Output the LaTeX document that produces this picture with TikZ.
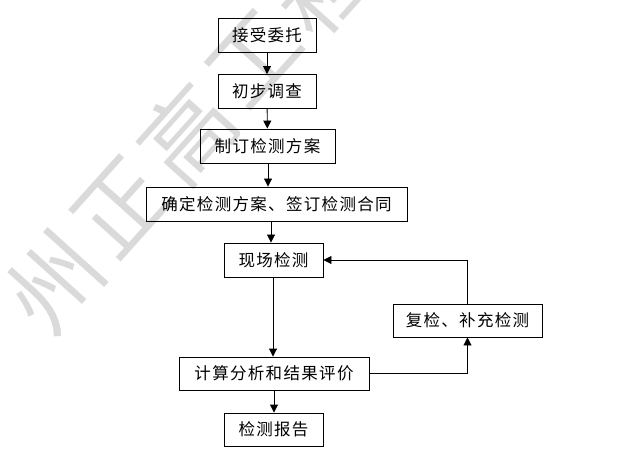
\documentclass[tikz,border=0pt]{standalone}
\usepackage{fontspec}
\setmainfont{Noto Sans CJK SC}
\newfontfamily\boxfont[LetterSpace=8]{Noto Sans CJK SC}
\usetikzlibrary{arrows.meta}
\definecolor{wm}{RGB}{218,218,218}
\begin{document}
\begin{tikzpicture}[x=1pt,y=-1pt,
  box/.style={draw,line width=0.9pt,minimum height=34pt,inner sep=0pt,font=\boxfont\fontsize{16.5}{20}\selectfont},
  arr/.style={line width=0.9pt,-{Triangle[length=8pt,width=8pt]}},
  wmark/.style={text=wm,font=\fontsize{92}{92}\selectfont,rotate=48,inner sep=0pt}]
\useasboundingbox (0,0) rectangle (632,465);
\begin{scope}
\clip (0,0) rectangle (632,465);
\node[wmark] (w1) at (55,282) {州};
\node[wmark] (w2) at (121,207) {正};
\node[wmark] (w3) at (187,134) {高};
\node[wmark] (w4) at (254,58) {工};
\node[wmark] (w5) at (322,-14) {程};
\end{scope}
\node[box,minimum width=98pt] (n1) at (267,35) {接受委托};
\node[box,minimum width=98pt] (n2) at (267,91.5) {初步调查};
\node[box,minimum width=135pt] (n3) at (267.5,146) {制订检测方案};
\node[box,minimum width=261pt] (n4) at (276.5,204) {确定检测方案、签订检测合同};
\node[box,minimum width=99pt] (n5) at (273.5,260) {现场检测};
\node[box,minimum width=190pt,minimum height=33pt] (n6) at (274,373.5) {计算分析和结果评价};
\node[box,minimum width=99pt,minimum height=33pt] (n7) at (273.5,429.5) {检测报告};
\node[box,minimum width=149pt,minimum height=33pt] (n8) at (467.5,320.5) {复检、补充检测};
\draw[arr] (n1) -- (n2);
\draw[arr] (n2) -- (n3);
\draw[arr] ([xshift=0.5pt]n3.south) -- ([xshift=-8.5pt]n4.north);
\draw[arr] ([xshift=-5.5pt]n4.south) -- ([xshift=-2.5pt]n5.north);
\draw[arr] ([xshift=-0.5pt]n5.south) -- ([xshift=-1pt]n6.north);
\draw[arr] (n6.south) -- ([xshift=0.5pt]n7.north);
\draw[arr] (n6.east) -| (n8.south);
\draw[arr] (n8.north) |- (n5.east);
\end{tikzpicture}
\end{document}
